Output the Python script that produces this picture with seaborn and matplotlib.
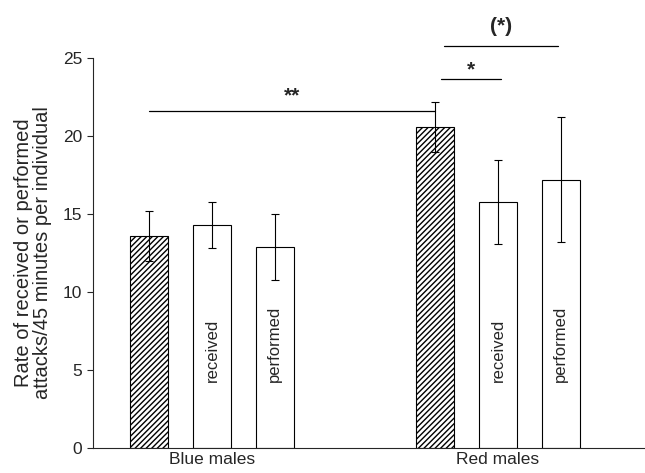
import pandas as pd
import matplotlib
matplotlib.use("Agg")
import matplotlib.pyplot as plt
import seaborn as sns

# values
groups = ["Blue males", "Red males"]
kinds = ["total", "received", "performed"]
means = {
    "total": [13.6, 20.6],
    "received": [14.3, 15.8],
    "performed": [12.9, 17.2],
}
errs = {
    "total": [1.6, 1.6],
    "received": [1.5, 2.7],
    "performed": [2.1, 4.0],
}
bar_labels = ["", "received", "performed"]

rows = []
for k in kinds:
    for g, m in zip(groups, means[k]):
        rows.append({"group": g, "kind": k, "rate": m})
df = pd.DataFrame(rows)

sns.set_style("ticks")
plt.rcParams["font.family"] = ["Liberation Sans", "DejaVu Sans"]
plt.rcParams["hatch.linewidth"] = 1.0

fig = plt.figure(figsize=(6.45, 4.73), dpi=100)
ax = fig.add_axes([0.144, 0.053, 0.856, 0.824])

sns.barplot(data=df, x="group", y="rate", hue="kind", order=groups, hue_order=kinds,
            palette=["white"] * 3, edgecolor="black", linewidth=0.8,
            width=0.66, gap=0.4, errorbar=None, legend=False, ax=ax)

for k, cont, lab in zip(kinds, ax.containers, bar_labels):
    xs = [b.get_x() + b.get_width() / 2 for b in cont]
    if k == "total":
        for b in cont:
            b.set_hatch("//////")
    ax.errorbar(xs, means[k], yerr=errs[k], fmt="none", ecolor="black",
                elinewidth=0.8, capsize=3, capthick=0.8)
    if lab:
        for x in xs:
            ax.text(x, 4.2, lab, rotation=90, ha="center", va="bottom", fontsize=12)

# significance markers
sig = [
    (-0.22, 0.78, 21.6, "**", 22.6),
    (0.80, 1.01, 23.65, "*", 24.25),
    (0.81, 1.21, 25.8, "(*)", 27.0),
]
for x0, x1, y, s, ty in sig:
    ax.plot([x0, x1], [y, y], color="black", lw=0.9, clip_on=False)
    ax.text((x0 + x1) / 2, ty, s, ha="center", va="center", fontsize=15,
            fontweight="bold", clip_on=False)

ax.set_ylim(0, 25)
ax.set_xlim(-0.416, 1.514)
ax.set_yticks([0, 5, 10, 15, 20, 25])
ax.tick_params(axis="y", labelsize=12.5, length=4, width=0.8)
ax.tick_params(axis="x", labelsize=12.5, length=0, pad=3)
ax.set_xlabel("")
ax.set_ylabel("Rate of received or performed\nattacks/45 minutes per individual",
              fontsize=14.5, labelpad=8, linespacing=1.0)
sns.despine(ax=ax)
for sp in ["left", "bottom"]:
    ax.spines[sp].set_linewidth(0.8)

fig.savefig("out.png", dpi=100)
